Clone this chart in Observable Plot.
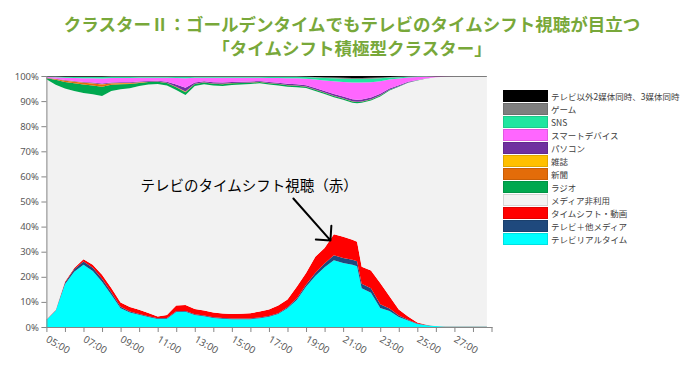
<!DOCTYPE html>
<html><head><meta charset="utf-8">
<script src="https://cdn.jsdelivr.net/npm/d3@7"></script>
<script src="https://cdn.jsdelivr.net/npm/@observablehq/plot@0.6"></script>
<style>
body{margin:0;background:#fff;font-family:"Noto Sans CJK JP","Noto Sans",sans-serif;}
#wrap{position:relative;width:700px;height:379px;overflow:hidden;background:#fff}
#title{height:64px;box-sizing:border-box;padding-top:12px;padding-left:4px;text-align:center;color:#78a83a;font-weight:bold;font-size:17.5px;line-height:24px;font-family:"Noto Sans CJK JP",sans-serif}
#legend{position:absolute;left:503px;top:89px;}
.row{display:flex;align-items:center;height:13px}
.sw{width:45px;height:12px;box-sizing:border-box;border:1px solid rgba(0,0,0,.12)}
.lb{margin-left:3px;font-size:8.5px;color:#404040;white-space:nowrap;font-family:"Noto Sans CJK JP",sans-serif}
</style></head>
<body><div id="wrap"><div id="title"><div>クラスターⅡ：ゴールデンタイムでもテレビのタイムシフト視聴が目立つ</div><div>「タイムシフト積極型クラスター」</div></div><div id="chart"></div><div id="legend"></div></div>
<script>
// time of day in hours (5 = 05:00, 29 = 05:00 next day)
const times = [5,5.5,6,6.5,7,7.5,8,8.5,9,9.5,10,10.5,11,11.5,12,12.5,13,13.5,14,14.5,15,15.5,16,16.5,17,17.5,18,18.5,19,19.5,20,20.5,21,21.5,21.75,22,22.5,23,23.5,24,24.5,25,25.5,26,26.5,27,27.5,28,28.5,28.75];

// series, bottom of stack to top
const seriesNames = ["テレビリアルタイム","テレビ＋他メディア","タイムシフト・動画","メディア非利用","ラジオ","新聞","雑誌","パソコン","スマートデバイス","SNS","ゲーム","テレビ以外2媒体同時、3媒体同時"];
const seriesColors = ["#00ffff","#1f497d","#ff0000","#f2f2f2","#00a84f","#e36c09","#ffc000","#7030a0","#ff66ff","#21e6a0","#7f7f7f","#000000"];

const tvRealtime = [2.8,6.5,17,22,24.8,22.3,18,12.8,7.5,5.8,4.9,4.0,3.2,3.3,6.0,6.1,4.8,4.3,3.6,3.3,3.1,3.1,3.1,3.5,4.1,5.2,7.5,10.8,16.0,20.3,23.8,26.6,25.5,24.8,24.2,15.4,13.6,7.6,6.4,4.0,2.6,1.2,0.7,0.4,0.2,0.2,0.2,0.2,0.2,0.2];
const tvPlusOther = [0.1,0.2,0.6,1.0,1.3,1.3,1.2,1.0,0.6,0.4,0.3,0.3,0.3,0.3,0.3,0.3,0.3,0.3,0.3,0.3,0.3,0.3,0.3,0.3,0.3,0.3,0.4,0.6,0.8,1.2,1.5,2.0,2.0,2.0,2.0,1.8,1.8,1.5,1.0,0.6,0.3,0.2,0.1,0,0,0,0,0,0,0];
const timeShift = [0.1,0.1,0.4,0.5,0.9,1.2,1.6,1.7,1.7,1.8,1.7,1.3,0.7,1.2,2.3,2.4,2.1,2.0,1.9,1.8,1.8,1.9,2.1,2.4,2.6,3.1,3.1,4.6,4.7,6.5,6.2,8.4,8.5,8.0,7.8,6.8,7.1,8.4,4.9,2.4,1.3,0.4,0.1,0,0.1,0.1,0.1,0.1,0.1,0.1];
const noMedia = [95.7,89.7,77.0,70.5,66.2,67.9,71.2,78.5,84.9,87.1,89.1,91.0,92.6,91.4,85.8,83.6,88.8,90.1,90.4,90.6,91.2,91.3,91.3,90.9,89.6,87.6,84.7,79.5,73.7,66.0,61.3,54.5,54.5,54.5,55.1,65.3,67.7,74.3,81.9,88.7,93.1,96.4,98.1,99.1,99.4,99.5,99.5,99.5,99.5,99.5];
const radio = [0.4,2.0,2.6,3.1,3.4,3.5,3.7,2.5,2.0,1.7,1.2,1.0,0.9,1.0,1.1,1.1,0.8,0.7,0.7,0.7,0.7,0.6,0.5,0.5,0.5,0.6,0.6,0.6,0.5,0.5,0.5,0.5,0.5,0.5,0.5,0.4,0.4,0.4,0.3,0.2,0.1,0.1,0,0,0,0,0,0,0,0];
const newspaper = [0.1,0.3,0.5,0.6,0.7,0.8,0.9,0.5,0.4,0.3,0.2,0.1,0.1,0.1,0.2,0.2,0.1,0.1,0.1,0.2,0.1,0.1,0.1,0.1,0.1,0.1,0.1,0.1,0.1,0.1,0.1,0.1,0.1,0.1,0.1,0.1,0.1,0.1,0,0,0,0,0,0,0,0,0,0,0,0];
const magazine = [0,0,0.1,0.1,0.1,0.1,0.1,0.1,0.1,0.1,0.1,0,0,0,0,0.1,0,0,0,0,0,0,0,0,0,0,0,0,0,0,0,0,0,0,0,0,0,0,0,0,0,0,0,0,0,0,0,0,0,0];
const pc = [0.1,0.1,0.2,0.2,0.2,0.3,0.3,0.3,0.3,0.3,0.3,0.3,0.3,0.4,0.9,1.5,0.5,0.4,0.5,0.5,0.4,0.4,0.4,0.3,0.4,0.4,0.5,0.5,0.5,0.6,0.6,0.7,0.7,0.8,0.8,0.8,0.7,0.6,0.5,0.4,0.3,0.1,0.1,0,0,0,0,0,0,0];
const smartDevice = [0.3,0.6,0.9,1.2,1.5,1.7,2.0,1.8,1.7,1.7,1.5,1.3,1.2,1.6,2.6,3.8,1.9,1.4,1.8,1.9,1.7,1.6,1.5,1.3,1.6,1.9,2.2,2.4,2.6,3.4,4.2,5.1,5.8,6.7,6.9,6.8,6.1,5.0,3.6,2.7,1.7,1.2,0.6,0.3,0.1,0,0,0,0,0];
const sns = [0.1,0.2,0.3,0.4,0.5,0.5,0.6,0.5,0.5,0.5,0.4,0.4,0.4,0.4,0.5,0.6,0.4,0.4,0.4,0.4,0.4,0.4,0.4,0.4,0.5,0.5,0.6,0.6,0.7,0.8,1.0,1.2,1.3,1.4,1.4,1.4,1.4,1.2,0.8,0.5,0.3,0.2,0.1,0,0,0,0,0,0,0];
const game = [0.1,0.1,0.1,0.1,0.1,0.1,0.1,0.1,0.1,0.1,0.1,0.1,0.1,0.1,0.1,0.1,0.1,0.1,0.1,0.1,0.1,0.1,0.1,0.1,0.1,0.1,0.1,0.1,0.1,0.2,0.3,0.3,0.4,0.4,0.4,0.4,0.4,0.3,0.2,0.2,0.1,0.1,0.1,0,0,0,0,0,0,0];
const multiMedia = [0.2,0.2,0.3,0.3,0.3,0.3,0.3,0.2,0.2,0.2,0.2,0.2,0.2,0.2,0.2,0.2,0.2,0.2,0.2,0.2,0.2,0.2,0.2,0.2,0.2,0.2,0.2,0.2,0.3,0.4,0.5,0.6,0.7,0.8,0.8,0.8,0.7,0.6,0.4,0.3,0.2,0.1,0.1,0.2,0.2,0.2,0.2,0.2,0.2,0.2];

const seriesValues = [tvRealtime,tvPlusOther,timeShift,noMedia,radio,newspaper,magazine,pc,smartDevice,sns,game,multiMedia];

// axis ticks
const xTickHours = [5,6,7,8,9,10,11,12,13,14,15,16,17,18,19,20,21,22,23,24,25,26,27,28,29];
const xLabelHours = [5,7,9,11,13,15,17,19,21,23,25,27];
const xLabels = ["05:00","07:00","09:00","11:00","13:00","15:00","17:00","19:00","21:00","23:00","25:00","27:00"];
const yTicks = [0,10,20,30,40,50,60,70,80,90,100];

// annotation
const noteText = ["テレビのタイムシフト視聴（赤）"];
const noteX = [15.9], noteY = [56.2];
const arrowFrom = [18.29, 51.4], arrowTo = [20.29, 34.7];

const rows = [];
seriesNames.forEach((s, k) => times.forEach((t, i) => rows.push({t, v: seriesValues[k][i], s})));

const chart = Plot.plot({
  width: 700, height: 315,
  marginLeft: 46.4, marginRight: 208.5, marginTop: 12, marginBottom: 52,
  x: {domain: [5, 29], axis: null},
  y: {domain: [0, 100], axis: null},
  color: {domain: seriesNames, range: seriesColors},
  style: {fontFamily: "'Noto Sans', sans-serif", background: "transparent"},
  marks: [
    Plot.areaY(rows, Plot.stackY({x: "t", y: "v", z: "s", fill: "s"})),
    Plot.frame({anchor: "left", stroke: "#868686"}),
    Plot.frame({anchor: "bottom", stroke: "#868686"}),
    Plot.axisY({ticks: yTicks, tickFormat: d => d + "%", tickSize: 5, tickPadding: 3, fontSize: 9.5, stroke: "#868686", fill: "#595959", label: null}),
    Plot.axisX({ticks: xTickHours, tickFormat: () => "", tickSize: 5, stroke: "#868686", label: null}),
    Plot.axisX({ticks: xLabelHours, tickFormat: d => xLabels[xLabelHours.indexOf(d)], tickSize: 0, tickPadding: 11, tickRotate: 30, fontSize: 10, fill: "#595959", label: null}),
    Plot.text(noteText, {x: noteX, y: noteY, text: d => d, fontSize: 14.5, fill: "#000", fontFamily: "'Noto Sans CJK JP', sans-serif"}),
    Plot.arrow([0], {x1: () => arrowFrom[0], y1: () => arrowFrom[1], x2: () => arrowTo[0], y2: () => arrowTo[1], stroke: "#000", strokeWidth: 2, headAngle: 90, headLength: 11})
  ]
});
document.getElementById("chart").appendChild(chart);

const legend = document.getElementById("legend");
for (let k = seriesNames.length - 1; k >= 0; k--) {
  const row = document.createElement("div"); row.className = "row";
  const sw = document.createElement("div"); sw.className = "sw"; sw.style.background = seriesColors[k];
  const lb = document.createElement("div"); lb.className = "lb"; lb.textContent = seriesNames[k];
  row.appendChild(sw); row.appendChild(lb); legend.appendChild(row);
}
</script>
</body></html>
